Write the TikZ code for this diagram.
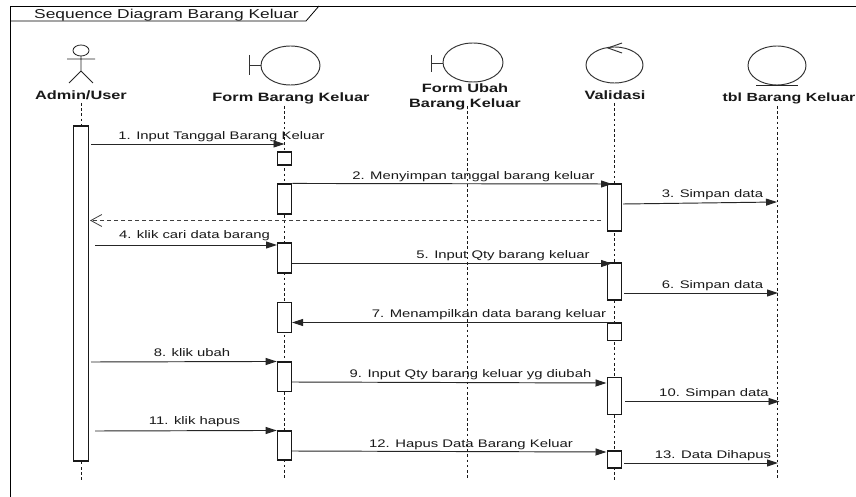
\documentclass[tikz,border=0pt]{standalone}
\usepackage{fontspec}
\setmainfont{Liberation Sans}[FakeStretch=1.35]
\usetikzlibrary{arrows.meta}
\tikzset{
  ln/.style={line width=0.95pt,draw=black!85},
  headlab/.style={font=\fontsize{12.1}{15}\selectfont\bfseries,align=center,inner sep=0pt,text=black!90,yshift=-1pt},
  lab/.style={font=\fontsize{11}{12}\selectfont,inner sep=0pt,text=black!90,yshift=-1.5pt},
  life/.style={line width=0.9pt,dash pattern=on 2.6pt off 2.6pt,draw=black!90},
  act/.style={draw=black!90,fill=white,line width=1.1pt,minimum width=14.5pt,inner sep=0pt,rectangle},
  msg/.style={ln,-{Triangle[length=11pt,width=7pt]}},
  ret/.style={line width=0.8pt,draw=black!75,dash pattern=on 4pt off 3pt,-{Straight Barb[length=11pt,width=12pt,line width=0.8pt]}},
  glyph/.style={line width=0.95pt,draw=black!80,fill=white}
}
\begin{document}
\begin{tikzpicture}[x=1pt,y=-1pt]
\useasboundingbox (0,0) rectangle (856,497);
\fill[white] (0,0) rectangle (856,497);
% frame
\draw[line width=0.9pt] (856,6) -- (10.5,6) -- (10.5,497);
\draw[line width=0.8pt] (10.5,21) -- (306,21) -- (319,6);
\node[inner sep=0pt,font=\fontsize{12.87}{14}\selectfont,text=black!90] (title) at (166.5,15.5) {Sequence Diagram Barang Keluar};
% lifeline ends
\coordinate (ua) at (81,103);   \coordinate (ub) at (81,480);
\coordinate (fa) at (284.5,106);\coordinate (fb) at (284.5,480);
\coordinate (ga) at (467,106);  \coordinate (gb) at (467,480);
\coordinate (va) at (614.5,103);\coordinate (vb) at (614.5,480);
\coordinate (ta) at (777,106);  \coordinate (tb) at (777,480);
\draw[life] (ua) -- (ub);
\draw[life] (fa) -- (fb);
\draw[life] (ga) -- (gb);
\draw[life] (va) -- (vb);
\draw[life] (ta) -- (tb);
% actor
\draw[line width=0.8pt,draw=black!85] (81,50.5) ellipse [x radius=8,y radius=5.5];
\draw[line width=0.8pt,draw=black!85] (67,59) -- (95,59) (81,56) -- (81,71) -- (69,83) (81,71) -- (93,83);
\node[headlab] (admin) at (81,94) {Admin/User};
% boundary Form
\draw[glyph] (249,55) -- (249,75) (249,65) -- (261,65);
\draw[glyph] (290.5,65.5) ellipse [x radius=29.5,y radius=19.5];
\node[headlab] (form) at (291,97) {Form Barang Keluar};
% boundary Ubah
\draw[glyph] (431,55) -- (431,72) (431,63) -- (443,63);
\draw[glyph] (473,62.5) ellipse [x radius=30,y radius=19.5];
\node[headlab] (ubah) at (465,95.5) {Form Ubah\\Barang Keluar};
% control
\draw[glyph] (614.5,65) ellipse [x radius=28.5,y radius=18];
\draw[line width=0.95pt,draw=black!80] (622,43) -- (608,48) -- (622,53);
\node[headlab] (valid) at (615,94) {Validasi};
% entity
\draw[glyph] (777,65.5) ellipse [x radius=29,y radius=19.5];
\draw[line width=0.95pt,draw=black!85] (756,85.5) -- (798,85.5);
\node[headlab,font=\fontsize{11.8}{15}\selectfont\bfseries] (tbl) at (789,97) {tbl Barang Keluar};
% activations
\node[act,minimum height=335pt] (au) at (81,293.5) {};
\node[act,minimum height=13pt] (f1) at (284.5,158.5) {};
\node[act,minimum height=30pt] (f2) at (284.5,199) {};
\node[act,minimum height=30pt] (f3) at (284.5,258) {};
\node[act,minimum height=29.5pt] (f4) at (284.5,317.5) {};
\node[act,minimum height=29.5pt] (f5) at (284.5,376.75) {};
\node[act,minimum height=29pt] (f6) at (284.5,445.5) {};
\node[act,minimum height=47pt] (v1) at (614.5,207.5) {};
\node[act,minimum height=37pt] (v2) at (614.5,281.5) {};
\node[act,minimum height=17.5pt] (v3) at (614.5,331.75) {};
\node[act,minimum height=37pt] (v4) at (614.5,396) {};
\node[act,minimum height=17pt] (v5) at (614.5,459.5) {};
% free ends
\coordinate (m1a) at (91,144);    \coordinate (m1b) at (284.5,144);
\coordinate (m2a) at (f2.north east); \coordinate (m2b) at (612,184);
\coordinate (m3a) at (623,204);   \coordinate (m3b) at (777,202);
\coordinate (m0a) at (601,220.5); \coordinate (m0b) at (90,220.5);
\coordinate (m4a) at (95,245);    \coordinate (m4b) at (277,245);
\coordinate (m5a) at (292,263.5); \coordinate (m5b) at (612,263.5);
\coordinate (m6a) at (624,293);   \coordinate (m6b) at (778,293);
\coordinate (m7a) at (614.5,322.5); \coordinate (m7b) at (292,322.5);
\coordinate (m8a) at (91,362);    \coordinate (m8b) at (f5.north west);
\coordinate (m9a) at (292,382);   \coordinate (m9b) at (606.5,383);
\coordinate (m10a) at (625,401.5);\coordinate (m10b) at (779.5,401.5);
\coordinate (m11a) at (95,431);   \coordinate (m11b) at (f6.north west);
\coordinate (m12a) at (292,451);  \coordinate (m12b) at (606.5,452);
\coordinate (m13a) at (624,463);  \coordinate (m13b) at (778,463);
% messages
\draw[msg] (m1a) -- (m1b);
\draw[msg] (m2a) -- (m2b);
\draw[msg] (m3a) -- (m3b);
\draw[ret] (m0a) -- (m0b);
\draw[msg] (m4a) -- (m4b);
\draw[msg] (m5a) -- (m5b);
\draw[msg] (m6a) -- (m6b);
\draw[msg] (m7a) -- (m7b);
\draw[msg] (m8a) -- (m8b);
\draw[msg] (m9a) -- (m9b);
\draw[msg] (m10a) -- (m10b);
\draw[msg] (m11a) -- (m11b);
\draw[msg] (m12a) -- (m12b);
\draw[msg] (m13a) -- (m13b);
% labels
\node[lab] (l1) at (221.5,135) {1. Input Tanggal Barang Keluar};
\node[lab] (l2) at (473.5,175) {2. Menyimpan tanggal barang keluar};
\node[lab] (l3) at (712.5,193) {3. Simpan data};
\node[lab] (l4) at (194.5,234.5) {4. klik cari data barang};
\node[lab] (l5) at (503,254) {5. Input Qty barang keluar};
\node[lab] (l6) at (712.5,284) {6. Simpan data};
\node[lab] (l7) at (489,313) {7. Menampilkan data barang keluar};
\node[lab] (l8) at (192,351) {8. klik ubah};
\node[lab] (l9) at (470.5,373.5) {9. Input Qty barang keluar yg diubah};
\node[lab] (l10) at (714,392) {10. Simpan data};
\node[lab] (l11) at (194.5,420) {11. klik hapus};
\node[lab] (l12) at (471,443) {12. Hapus Data Barang Keluar};
\node[lab] (l13) at (713,454) {13. Data Dihapus};
\end{tikzpicture}
\end{document}
